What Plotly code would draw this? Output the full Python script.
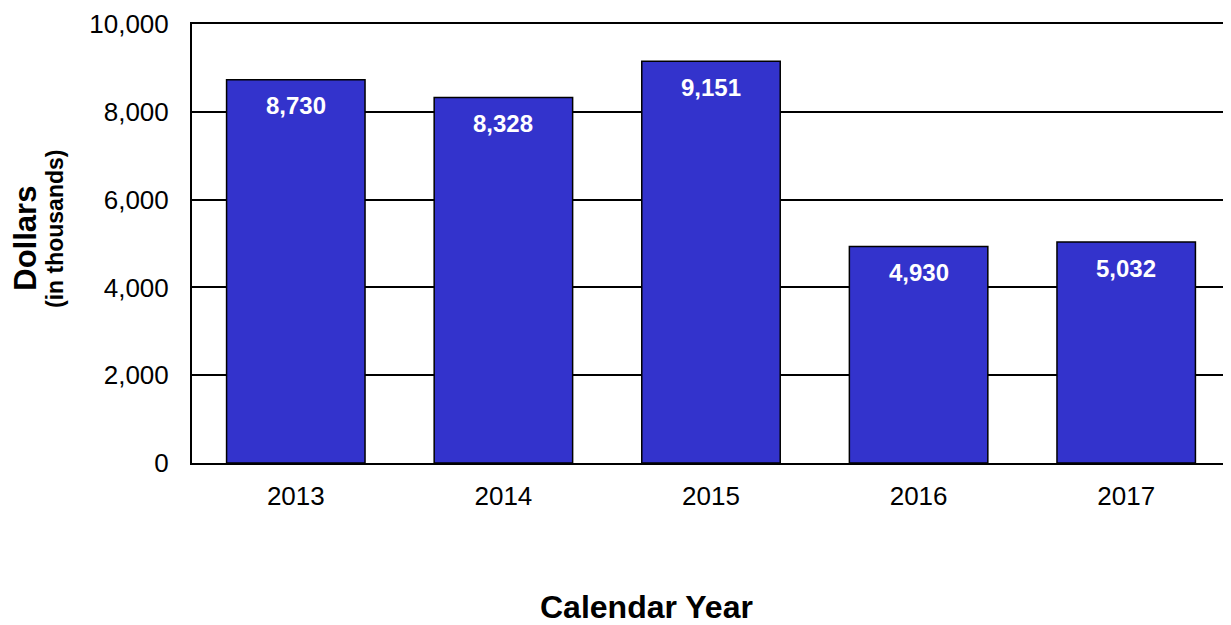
import plotly.graph_objects as go

years = ["2013", "2014", "2015", "2016", "2017"]
values = [8730, 8328, 9151, 4930, 5032]
labels = ["8,730", "8,328", "9,151", "4,930", "5,032"]
y_ticks = [0, 2000, 4000, 6000, 8000, 10000]
y_tick_text = ["0", "2,000", "4,000", "6,000", "8,000", "10,000"]

FONT = "Liberation Sans, Arial, sans-serif"

fig = go.Figure()
fig.add_trace(go.Bar(
    x=years, y=values,
    marker=dict(color="#3333CC", line=dict(color="black", width=1.5)),
    width=0.667,
    hoverinfo="skip",
))

for i, (v, lab) in enumerate(zip(values, labels)):
    fig.add_annotation(
        x=i, y=v, text="<b>" + lab + "</b>", showarrow=False,
        yshift=-26, yanchor="middle",
        font=dict(family=FONT, size=24, color="white"),
    )

fig.add_annotation(
    xref="paper", yref="paper", x=0.438, y=-0.328, yanchor="middle",
    text="<b>Calendar Year</b>", showarrow=False,
    font=dict(family=FONT, size=32, color="black"),
)
fig.add_annotation(
    xref="paper", yref="paper", x=-0.160, xanchor="center", y=0.513, yanchor="middle",
    text="<b>Dollars</b>", textangle=-90, showarrow=False,
    font=dict(family=FONT, size=31, color="black"),
)
fig.add_annotation(
    xref="paper", yref="paper", x=-0.132, xanchor="center", y=0.533, yanchor="middle",
    text="<b>(in thousands)</b>", textangle=-90, showarrow=False,
    font=dict(family=FONT, size=23, color="black"),
)

fig.update_layout(
    width=1231, height=625,
    margin=dict(l=184, r=9, t=16, b=170),
    plot_bgcolor="white", paper_bgcolor="white",
    showlegend=False,
    font=dict(family=FONT, size=26, color="black"),
    xaxis=dict(
        type="category", range=[-0.5, 4.5], automargin=False,
        showline=True, linecolor="black", linewidth=2, mirror=True,
        ticks="", tickfont=dict(size=26), showgrid=False,
        ticklabelstandoff=9,
    ),
    yaxis=dict(
        range=[0, 10000], tickvals=y_ticks, ticktext=y_tick_text,
        automargin=False,
        showline=True, linecolor="black", linewidth=2, mirror=True,
        showgrid=True, gridcolor="black", gridwidth=1.5,
        ticks="", tickfont=dict(size=26), zeroline=False,
        ticklabelstandoff=16,
    ),
)

fig.write_html("out.html")
